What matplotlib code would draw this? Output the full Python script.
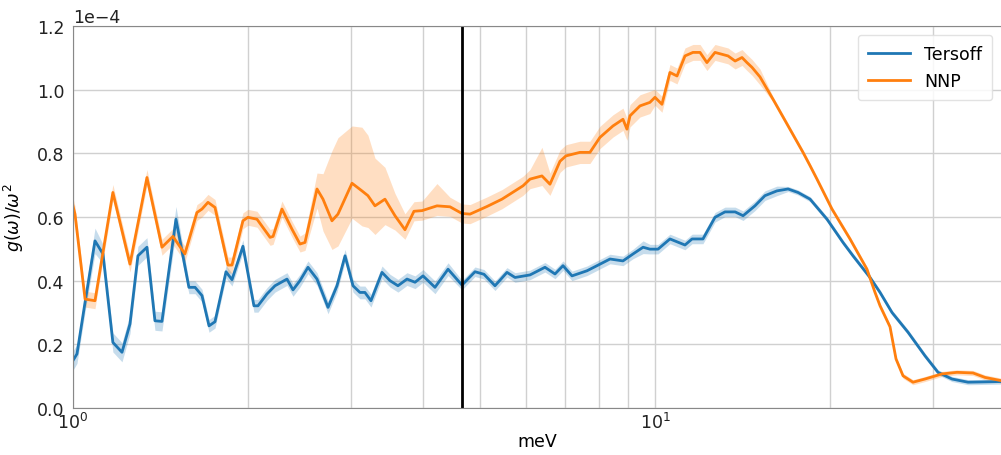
import matplotlib.pyplot as plt
from matplotlib.ticker import MultipleLocator, LogLocator, NullFormatter
import numpy as np

# energies in meV, g(w)/w^2 in units of 1e-4
ters_x = [1.00, 1.016, 1.049, 1.091, 1.126, 1.171, 1.214, 1.253, 1.293, 1.340,
          1.383, 1.422, 1.503, 1.582, 1.621, 1.666, 1.713, 1.754, 1.832, 1.876,
          1.959, 2.046, 2.079, 2.154, 2.224, 2.332, 2.388, 2.455, 2.534, 2.626,
          2.743, 2.842, 2.934, 3.028, 3.112, 3.174, 3.251, 3.396, 3.505, 3.617,
          3.749, 3.870, 3.994, 4.188, 4.410, 4.660, 4.906, 5.084, 5.310, 5.568,
          5.748, 6.099, 6.471, 6.733, 6.950, 7.201, 7.641, 7.949, 8.37, 8.81,
          9.17, 9.54, 9.80, 10.12, 10.61, 11.26, 11.58, 12.09, 12.68, 13.19,
          13.73, 14.17, 14.85, 15.45, 16.20, 16.93, 17.61, 18.47, 19.75, 21.04,
          21.89, 23.41, 24.36, 25.54, 27.21, 29.10, 30.64, 32.38, 34.50, 39.31]
ters_y = [0.149, 0.170, 0.332, 0.525, 0.484, 0.206, 0.175, 0.264, 0.478, 0.505,
          0.274, 0.272, 0.593, 0.379, 0.379, 0.353, 0.258, 0.271, 0.428, 0.403,
          0.508, 0.321, 0.321, 0.358, 0.384, 0.405, 0.371, 0.400, 0.442, 0.405,
          0.316, 0.384, 0.478, 0.384, 0.363, 0.363, 0.337, 0.426, 0.400, 0.384,
          0.405, 0.395, 0.415, 0.379, 0.436, 0.386, 0.428, 0.420, 0.384, 0.426,
          0.410, 0.418, 0.442, 0.421, 0.447, 0.415, 0.431, 0.447, 0.468, 0.462,
          0.484, 0.505, 0.499, 0.499, 0.531, 0.512, 0.531, 0.531, 0.599, 0.616,
          0.616, 0.604, 0.635, 0.667, 0.682, 0.688, 0.677, 0.656, 0.593, 0.520,
          0.478, 0.410, 0.363, 0.300, 0.238, 0.164, 0.112, 0.091, 0.081, 0.083]
ters_err = [0.03, 0.03, 0.03, 0.04, 0.03, 0.03, 0.03, 0.03, 0.03, 0.03,
            0.03, 0.03, 0.04, 0.02, 0.02, 0.02, 0.02, 0.02, 0.02, 0.02,
            0.02, 0.02, 0.02, 0.02, 0.02, 0.02, 0.02, 0.02, 0.02, 0.02,
            0.02, 0.02, 0.02, 0.02, 0.02, 0.02, 0.02, 0.02, 0.02, 0.02,
            0.02, 0.02, 0.02, 0.02, 0.02, 0.015, 0.015, 0.015, 0.015, 0.015,
            0.015, 0.015, 0.015, 0.015, 0.015, 0.015, 0.015, 0.015, 0.015, 0.015,
            0.015, 0.02, 0.015, 0.015, 0.015, 0.015, 0.015, 0.015, 0.015, 0.015,
            0.015, 0.015, 0.015, 0.015, 0.015, 0.008, 0.008, 0.008, 0.008, 0.008,
            0.008, 0.008, 0.008, 0.008, 0.008, 0.008, 0.008, 0.008, 0.008, 0.008]

nnp_x = [1.00, 1.008, 1.049, 1.091, 1.171, 1.253, 1.340, 1.422, 1.485, 1.557,
         1.633, 1.666, 1.706, 1.754, 1.846, 1.876, 1.959, 1.998, 2.071, 2.181,
         2.207, 2.286, 2.378, 2.455, 2.504, 2.626, 2.689, 2.786, 2.853, 3.016,
         3.137, 3.212, 3.303, 3.436, 3.575, 3.719, 3.854, 3.979, 4.221, 4.444,
         4.660, 4.810, 5.145, 5.459, 5.748, 5.933, 6.099, 6.394, 6.600, 6.867,
         7.032, 7.431, 7.731, 8.043, 8.468, 8.81, 8.95, 9.06, 9.424, 9.80,
         10.0, 10.28, 10.61, 10.91, 11.26, 11.62, 11.95, 12.28, 12.68, 13.35,
         13.73, 14.11, 14.39, 14.68, 15.15, 15.95, 16.86, 17.96, 18.47, 18.98,
         20.14, 21.63, 23.13, 23.88, 24.36, 25.34, 25.95, 26.68, 27.75, 29.10,
         31.13, 33.03, 35.19, 36.90, 39.31]
nnp_y = [0.635, 0.609, 0.342, 0.337, 0.677, 0.452, 0.724, 0.505, 0.539, 0.484,
         0.614, 0.625, 0.646, 0.630, 0.449, 0.449, 0.588, 0.599, 0.593, 0.536,
         0.539, 0.625, 0.562, 0.515, 0.520, 0.688, 0.656, 0.588, 0.609, 0.706,
         0.682, 0.667, 0.635, 0.656, 0.604, 0.560, 0.618, 0.620, 0.635, 0.632,
         0.611, 0.609, 0.633, 0.656, 0.682, 0.698, 0.719, 0.729, 0.703, 0.775,
         0.792, 0.803, 0.803, 0.850, 0.886, 0.907, 0.876, 0.918, 0.949, 0.960,
         0.976, 0.954, 1.054, 1.043, 1.106, 1.117, 1.117, 1.085, 1.117, 1.106,
         1.090, 1.101, 1.085, 1.070, 1.040, 0.970, 0.892, 0.803, 0.761, 0.719,
         0.625, 0.531, 0.436, 0.363, 0.321, 0.255, 0.154, 0.101, 0.081, 0.091,
         0.107, 0.112, 0.110, 0.096, 0.086]
nnp_err_dn = [0.025, 0.025, 0.025, 0.025, 0.025, 0.025, 0.025, 0.025, 0.025, 0.025,
              0.025, 0.025, 0.025, 0.025, 0.025, 0.025, 0.025, 0.025, 0.025, 0.025,
              0.025, 0.025, 0.025, 0.025, 0.025, 0.06, 0.10, 0.09, 0.10, 0.11,
              0.11, 0.10, 0.09, 0.08, 0.045, 0.03, 0.03, 0.03, 0.03, 0.03,
              0.03, 0.03, 0.03, 0.03, 0.03, 0.03, 0.03, 0.03, 0.035, 0.035,
              0.035, 0.035, 0.035, 0.035, 0.035, 0.035, 0.035, 0.035, 0.035, 0.035,
              0.025, 0.025, 0.025, 0.025, 0.025, 0.025, 0.025, 0.025, 0.025, 0.025,
              0.025, 0.025, 0.025, 0.025, 0.025, 0.008, 0.008, 0.008, 0.008, 0.008,
              0.008, 0.008, 0.008, 0.008, 0.008, 0.008, 0.008, 0.008, 0.008, 0.008,
              0.008, 0.008, 0.008, 0.008, 0.008]
nnp_err_up = [0.025, 0.025, 0.025, 0.025, 0.025, 0.025, 0.025, 0.025, 0.025, 0.025,
              0.025, 0.025, 0.025, 0.025, 0.025, 0.025, 0.025, 0.025, 0.025, 0.025,
              0.025, 0.025, 0.025, 0.025, 0.03, 0.05, 0.08, 0.22, 0.24, 0.18,
              0.20, 0.19, 0.15, 0.10, 0.07, 0.05, 0.03, 0.03, 0.07, 0.03,
              0.03, 0.03, 0.03, 0.03, 0.03, 0.03, 0.03, 0.09, 0.035, 0.035,
              0.035, 0.035, 0.035, 0.035, 0.035, 0.035, 0.035, 0.035, 0.035, 0.035,
              0.025, 0.025, 0.025, 0.025, 0.025, 0.025, 0.025, 0.025, 0.025, 0.025,
              0.025, 0.025, 0.025, 0.025, 0.025, 0.008, 0.008, 0.008, 0.008, 0.008,
              0.008, 0.008, 0.008, 0.008, 0.008, 0.008, 0.008, 0.008, 0.008, 0.008,
              0.008, 0.008, 0.008, 0.008, 0.008]

cutoff_mev = 4.66
SCALE = 1e-4

ters_x, ters_y, ters_err = map(np.array, (ters_x, ters_y, ters_err))
nnp_x, nnp_y = np.array(nnp_x), np.array(nnp_y)
nnp_err_dn, nnp_err_up = np.array(nnp_err_dn), np.array(nnp_err_up)

fig = plt.figure(figsize=(10.01, 4.56), dpi=100)
ax = fig.add_axes([0.0729, 0.1031, 0.9271, 0.8377])

ax.fill_between(ters_x, (ters_y - ters_err) * SCALE, (ters_y + ters_err) * SCALE,
                color="C0", alpha=0.25, lw=0)
ax.plot(ters_x, ters_y * SCALE, color="C0", lw=2, label="Tersoff")
ax.fill_between(nnp_x, (nnp_y - nnp_err_dn) * SCALE, (nnp_y + nnp_err_up) * SCALE,
                color="C1", alpha=0.25, lw=0)
ax.plot(nnp_x, nnp_y * SCALE, color="C1", lw=2, label="NNP")
ax.axvline(cutoff_mev, color="black", lw=2)

ax.set_xscale("log")
ax.set_xlim(1, 39.31)
ax.set_ylim(0, 1.2e-4)
ax.yaxis.set_major_locator(MultipleLocator(0.2e-4))
ax.ticklabel_format(axis="y", style="sci", scilimits=(-4, -4))
ax.xaxis.set_minor_locator(LogLocator(base=10, subs=np.arange(2, 10)))
ax.xaxis.set_minor_formatter(NullFormatter())

ax.grid(True, which="both", axis="x", color="#d0d0d0", lw=1)
ax.grid(True, which="major", axis="y", color="#d0d0d0", lw=1)
ax.set_axisbelow(True)

ax.tick_params(which="both", length=0, labelsize=12.5, colors="#222222")
ax.tick_params(axis="y", pad=6)
ax.tick_params(axis="x", pad=3)
for side in ("left", "bottom", "top"):
    ax.spines[side].set_color("#888888")
ax.spines["right"].set_visible(False)
ax.yaxis.get_offset_text().set_fontsize(12.5)

ax.set_xlabel("meV", fontsize=12.5, labelpad=0)
ax.set_ylabel(r"$g(\omega)/\omega^2$", fontsize=12.5, labelpad=8)
ax.legend(loc="upper right", fontsize=12.5, framealpha=0.85, edgecolor="#dddddd",
          handlelength=2.4, labelspacing=0.5, borderpad=0.6)

fig.savefig("out.png", dpi=100)
